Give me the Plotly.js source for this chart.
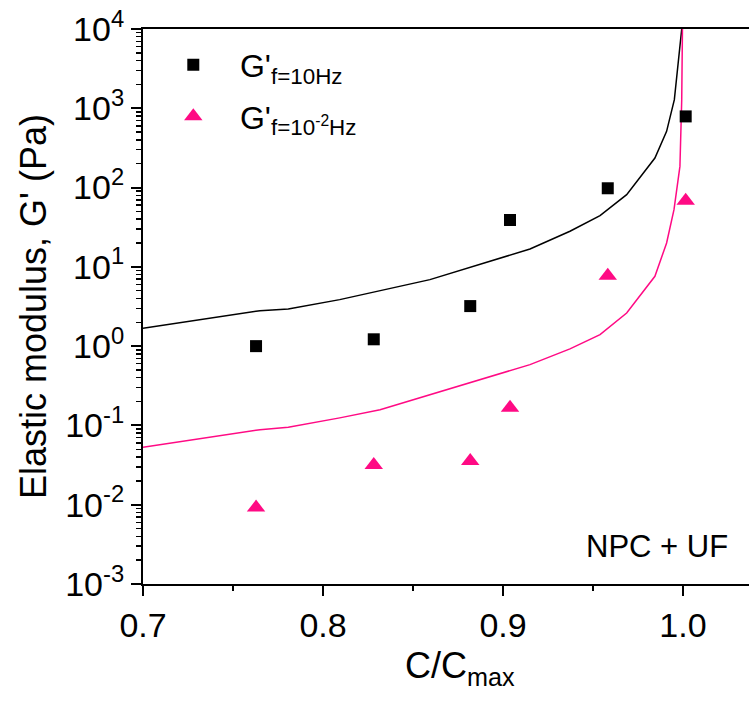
<!DOCTYPE html>
<html>
<head>
<meta charset="utf-8">
<script src="https://cdn.plot.ly/plotly-3.0.1.min.js"></script>
<style>html,body{margin:0;padding:0;background:#fff;}#chart{width:749px;height:701px;}</style>
</head>
<body>
<div id="chart"></div>
<script>
// Measured data: C/Cmax vs G'
const xHighF = [0.7628, 0.8282, 0.8818, 0.9039, 0.9582, 1.0015];
const gHighF = [1.0, 1.22, 3.2, 39, 98, 790];
const xLowF = [0.7628, 0.8282, 0.8818, 0.9039, 0.9582, 1.0015];
const gLowF = [0.0092, 0.0316, 0.0355, 0.167, 7.7, 68];

// Model curves
const xCurveHigh = [0.7, 0.765, 0.7807, 0.8093, 0.8594, 0.915, 0.9372, 0.9539, 0.9687, 0.9844, 0.9909, 0.9952, 0.9993];
const gCurveHigh = [1.68, 2.80, 2.95, 3.86, 6.9, 16.8, 28.1, 44.3, 81.4, 236, 512, 1284, 10000];
const xCurveLow = [0.7, 0.765, 0.7807, 0.8093, 0.8317, 0.915, 0.9372, 0.9539, 0.9687, 0.9844, 0.9909, 0.995, 0.9983, 0.9993, 0.9997];
const gCurveLow = [0.053, 0.0885, 0.0946, 0.1245, 0.158, 0.585, 0.923, 1.40, 2.62, 7.6, 20, 52.6, 185, 1280, 10000];

const xTickVals = [0.7, 0.8, 0.9, 1.0];
const xTickText = ['0.7', '0.8', '0.9', '1.0'];
const yTickVals = [1e-3, 1e-2, 1e-1, 1, 10, 100, 1000, 10000];
const yTickText = ['10<sup>-3</sup>', '10<sup>-2</sup>', '10<sup>-1</sup>', '10<sup>0</sup>', '10<sup>1</sup>', '10<sup>2</sup>', '10<sup>3</sup>', '10<sup>4</sup>'];

const nameHigh = "&nbsp;&nbsp;&nbsp;G'<sub>f=10Hz</sub>";
const nameLow = "&nbsp;&nbsp;&nbsp;G'<sub>f=10<sup>-2</sup>Hz</sub>";
const xTitle = 'C/C<sub>max</sub>';
const yTitle = "Elastic modulus, G' (Pa)";
const note = 'NPC + UF';

const black = '#000000';
const pink = '#ff0a84';
const FONT = 'Liberation Sans, Arial, sans-serif';

const traces = [
  {x: xCurveHigh, y: gCurveHigh, mode: 'lines', line: {color: black, width: 1.5}, showlegend: false, hoverinfo: 'skip'},
  {x: xCurveLow, y: gCurveLow, mode: 'lines', line: {color: pink, width: 1.5}, showlegend: false, hoverinfo: 'skip'},
  {x: xHighF, y: gHighF, mode: 'markers', name: nameHigh, legendgroup: 'a', marker: {symbol: 'square', size: 12, color: black}},
  {x: xLowF, y: gLowF, mode: 'markers', name: nameLow, legendgroup: 'b', marker: {symbol: 'triangle-up', size: 16, color: pink}}
];

const layout = {
  width: 749, height: 701,
  margin: {l: 143, r: 0, t: 29, b: 117},
  paper_bgcolor: '#fff', plot_bgcolor: '#fff',
  font: {family: FONT, color: '#000', size: 30},
  showlegend: true,
  legend: {x: 0.05, y: 0.985, xanchor: 'left', yanchor: 'top', bgcolor: 'rgba(0,0,0,0)', font: {size: 32, family: FONT}, tracegroupgap: 7, itemwidth: 30},
  xaxis: {
    type: 'linear', range: [0.7, 1.03667],
    tickmode: 'array', tickvals: xTickVals, ticktext: xTickText,
    ticks: 'outside', ticklen: 10, tickwidth: 2, tickcolor: black,
    minor: {dtick: 0.05, tick0: 0.7, ticks: 'outside', ticklen: 5, tickwidth: 2, tickcolor: black, showgrid: false},
    showline: true, linewidth: 2, linecolor: black, mirror: true,
    showgrid: false, zeroline: false,
    tickfont: {size: 34, family: FONT}
  },
  yaxis: {
    type: 'log', range: [-3, 4],
    tickmode: 'array', tickvals: yTickVals, ticktext: yTickText,
    ticks: 'outside', ticklen: 10, tickwidth: 2, tickcolor: black,
    minor: {dtick: 'D1', ticks: 'outside', ticklen: 5, tickwidth: 1.5, tickcolor: black, showgrid: false},
    showline: true, linewidth: 2, linecolor: black,
    showgrid: false, zeroline: false,
    tickfont: {size: 34, family: FONT},
    title: {text: yTitle, font: {size: 36, family: FONT}, standoff: 8}
  },
  annotations: [
    {text: xTitle, xref: 'paper', yref: 'paper', x: 0.523, y: -0.152, xanchor: 'center', yanchor: 'middle', showarrow: false, font: {size: 36, family: FONT, color: black}},
    {text: note, xref: 'paper', yref: 'paper', x: 0.969, y: 0.067, xanchor: 'right', yanchor: 'middle', showarrow: false, font: {size: 31, family: FONT, color: black}}
  ]
};

Plotly.newPlot('chart', traces, layout, {staticPlot: true, displayModeBar: false});
</script>
</body>
</html>
